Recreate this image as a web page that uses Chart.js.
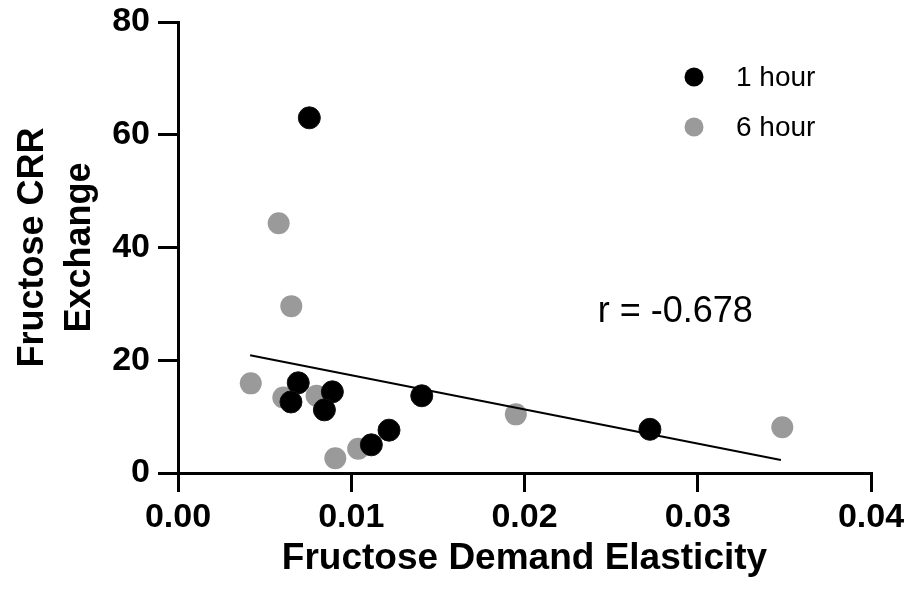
<!DOCTYPE html>
<html>
<head>
<meta charset="utf-8">
<script src="https://cdn.jsdelivr.net/npm/chart.js@4"></script>
<style>
  html, body { margin: 0; padding: 0; background: #fff; }
  #wrap { width: 911px; height: 598px; }
</style>
</head>
<body>
<div id="wrap"><canvas id="elasticityChart" width="911" height="598"></canvas></div>
<script>
const oneHourX = [0.00758, 0.00694, 0.00652, 0.00891, 0.00845, 0.01116, 0.01218, 0.01407, 0.02724];
const oneHourY = [63.0, 16.0, 12.6, 14.4, 11.2, 5.0, 7.6, 13.7, 7.75];
const sixHourX = [0.0042, 0.00608, 0.0080, 0.00908, 0.0104, 0.00581, 0.00654, 0.0195, 0.03488];
const sixHourY = [15.9, 13.4, 13.7, 2.6, 4.3, 44.3, 29.6, 10.4, 8.1];
const fitX = [0.00416, 0.0348];
const fitY = [20.9, 2.3];
const seriesNames = ["1 hour", "6 hour"];
const rLabel = "r = -0.678";

const FONT = "'Liberation Sans', Arial, Helvetica, sans-serif";

function toPoints(xs, ys) {
  return xs.map((x, i) => ({ x: x, y: ys[i] }));
}

// legend and correlation text drawn straight onto the canvas
const notes = {
  id: "notes",
  afterDatasetsDraw(chart) {
    const ctx = chart.ctx;
    const area = chart.chartArea;
    ctx.save();
    ctx.font = "28px " + FONT;
    ctx.textBaseline = "middle";
    ctx.textAlign = "left";
    const colors = ["#000000", "#9a9a9a"];
    seriesNames.forEach((name, i) => {
      const cy = 77 + i * 50;
      const cx = area.right - 177;
      ctx.fillStyle = colors[i];
      ctx.beginPath();
      ctx.arc(cx, cy, 9.5, 0, Math.PI * 2);
      ctx.fill();
      ctx.fillStyle = "#000";
      ctx.fillText(name, cx + 42, cy + 1);
    });

    ctx.font = "36px " + FONT;
    ctx.textAlign = "center";
    const xs = chart.scales.x, ys = chart.scales.y;
    ctx.fillText(rLabel, xs.getPixelForValue(0.0287), ys.getPixelForValue(28.6));
    ctx.restore();
  }
};

document.addEventListener("DOMContentLoaded", function () {
  const ctx = document.getElementById("elasticityChart").getContext("2d");
  new Chart(ctx, {
    type: "scatter",
    data: {
      datasets: [
        {
          label: "fit",
          data: toPoints(fitX, fitY),
          showLine: true,
          borderColor: "#000",
          borderWidth: 2,
          pointRadius: 0,
          order: 0,
        },
        {
          label: seriesNames[0],
          data: toPoints(oneHourX, oneHourY),
          backgroundColor: "#000",
          borderColor: "#111",
          borderWidth: 1,
          pointRadius: 11,
          order: 1,
        },
        {
          label: seriesNames[1],
          data: toPoints(sixHourX, sixHourY),
          backgroundColor: "#9a9a9a",
          borderColor: "#9a9a9a",
          borderWidth: 0,
          pointRadius: 11,
          order: 2,
        },
      ],
    },
    options: {
      responsive: false,
      animation: false,
      layout: { padding: { top: 22, right: 40, left: 0, bottom: 0 } },
      plugins: {
        legend: { display: false },
        tooltip: { enabled: false },
      },
      scales: {
        x: {
          type: "linear",
          min: 0,
          max: 0.04,
          ticks: {
            stepSize: 0.01,
            color: "#000",
            padding: 5,
            font: { family: FONT, size: 34, weight: "bold" },
            callback: (v) => v.toFixed(2),
          },
          grid: { drawOnChartArea: false, drawTicks: true, tickLength: 19, color: "#000", lineWidth: 3 },
          border: { color: "#000", width: 3 },
          title: {
            display: true,
            text: "Fructose Demand Elasticity",
            color: "#000",
            padding: { top: 0, bottom: 16 },
            font: { family: FONT, size: 37, weight: "bold", lineHeight: 1.25 },
          },
          afterFit(scale) {
            scale.height = 125;
          },
        },
        y: {
          min: 0,
          max: 80,
          ticks: {
            stepSize: 20,
            color: "#000",
            padding: 8,
            font: { family: FONT, size: 34, weight: "bold", lineHeight: 0.8 },
          },
          grid: { drawOnChartArea: false, drawTicks: true, tickLength: 20, color: "#000", lineWidth: 3 },
          border: { color: "#000", width: 3 },
          title: {
            display: true,
            text: ["Fructose CRR", "Exchange"],
            color: "#000",
            padding: { top: 9, bottom: 0 },
            font: { family: FONT, size: 36, weight: "bold", lineHeight: 1.32 },
          },
          afterFit(scale) {
            scale.width = 178;
          },
        },
      },
    },
    plugins: [notes],
  });
});
</script>
</body>
</html>
